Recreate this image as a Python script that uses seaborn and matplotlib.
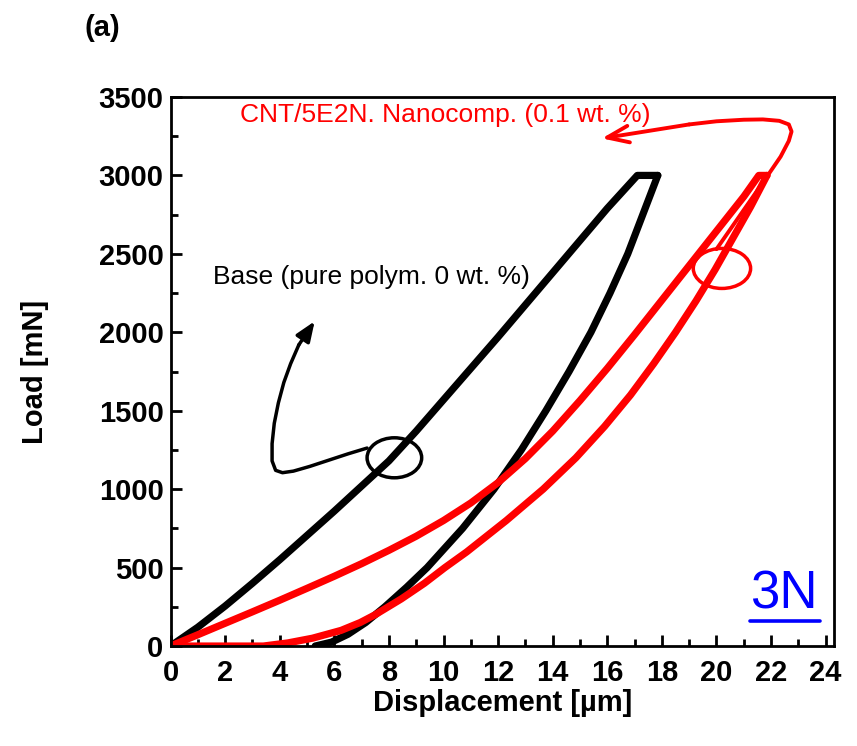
import matplotlib
matplotlib.use("Agg")
import matplotlib.pyplot as plt
from matplotlib.patches import Ellipse
from matplotlib.ticker import MultipleLocator
import seaborn as sns

# ---------------- data ----------------
# Base (pure polymer), loading branch
base_load_x = [0, 1, 2, 3, 4, 5, 6, 7, 8, 9, 10, 11, 12, 13, 14, 15, 16, 17.1, 17.85]
base_load_y = [0, 120, 255, 400, 550, 705, 860, 1020, 1180, 1370, 1570, 1770, 1970, 2175, 2380, 2585, 2790, 3000, 3000]
# Base, unloading branch
base_unl_x = [17.85, 17.3, 16.75, 16.1, 15.4, 14.6, 13.75, 12.85, 11.85, 10.7, 9.4, 8.65, 7.85, 7.15, 6.5, 5.9, 5.3]
base_unl_y = [3000, 2750, 2500, 2250, 2000, 1750, 1500, 1250, 1000, 750, 500, 375, 250, 150, 75, 25, 0]

# CNT/5E2N nanocomposite, loading branch
cnt_load_x = [0, 1, 2, 3, 4, 5, 6, 7, 8, 9, 10, 11, 12, 13, 14, 15, 16, 17, 18, 19, 20, 21, 21.55, 21.85]
cnt_load_y = [0, 72, 145, 218, 292, 368, 445, 525, 610, 700, 800, 912, 1042, 1195, 1370, 1565, 1770, 1985, 2205, 2425, 2645, 2865, 3000, 3000]
# CNT, unloading branch
cnt_unl_x = [21.85, 21.25, 20.6, 19.95, 19.25, 18.5, 17.7, 16.85, 15.9, 14.85, 13.65, 12.3,
             10.85, 10.05, 9.3, 8.45, 7.5, 6.95, 6.25, 5.2, 4.3, 3.4, 0]
cnt_unl_y = [3000, 2800, 2600, 2400, 2200, 2000, 1800, 1600, 1400, 1200, 1000, 800,
             600, 500, 400, 300, 200, 150, 100, 50, 20, 0, 0]

# annotation paths (ellipse markers + hooked arrows)
base_arrow_x = [7.2, 6.5, 5.8, 5.1, 4.5, 4.1, 3.85, 3.72, 3.72, 3.8, 3.95, 4.15, 4.4, 4.7]
base_arrow_y = [1262, 1225, 1185, 1145, 1115, 1105, 1120, 1180, 1290, 1420, 1550, 1680, 1800, 1920]
base_arrow_tip = (5.28, 2070)
cnt_arrow_x = [20.0, 20.6, 21.2, 21.8, 22.35, 22.65, 22.75, 22.65, 22.3, 21.7, 21.0, 20.0, 19.0]
cnt_arrow_y = [2530, 2680, 2830, 2980, 3120, 3220, 3280, 3325, 3348, 3357, 3355, 3345, 3325]
cnt_arrow_tip = (15.8, 3236)

# ---------------- figure ----------------
sns.set_theme(style="ticks")
plt.rcParams['font.family'] = ['Liberation Sans', 'DejaVu Sans']
plt.rcParams['text.color'] = 'black'
plt.rcParams['axes.labelcolor'] = 'black'
plt.rcParams['xtick.color'] = 'black'
plt.rcParams['ytick.color'] = 'black'

fig = plt.figure(figsize=(8.57, 7.46), dpi=100)
ax = fig.add_axes([0.199, 0.134, 0.774, 0.736])

black = '#000000'
red = '#ff0000'

for xs, ys, c in [(base_load_x, base_load_y, black), (base_unl_x, base_unl_y, black),
                  (cnt_load_x, cnt_load_y, red), (cnt_unl_x, cnt_unl_y, red)]:
    sns.lineplot(x=xs, y=ys, sort=False, estimator=None, color=c, linewidth=5.2,
                 ax=ax, solid_joinstyle='round', solid_capstyle='round')

# ellipses around the curves
ax.add_patch(Ellipse((8.2, 1200), 2.0, 255, fill=False, edgecolor=black, linewidth=2.5))
ax.add_patch(Ellipse((20.2, 2407), 2.1, 255, fill=False, edgecolor=red, linewidth=2.5))

# hooked arrows
sns.lineplot(x=base_arrow_x, y=base_arrow_y, sort=False, estimator=None, color=black,
             linewidth=2.5, ax=ax, solid_joinstyle='round', solid_capstyle='round')
ax.annotate('', xy=base_arrow_tip, xytext=(base_arrow_x[-1], base_arrow_y[-1]),
            arrowprops=dict(arrowstyle='-|>,head_length=1.0,head_width=0.4', color=black,
                            lw=2.5, shrinkA=0, shrinkB=0))
sns.lineplot(x=cnt_arrow_x, y=cnt_arrow_y, sort=False, estimator=None, color=red,
             linewidth=2.8, ax=ax, solid_joinstyle='round', solid_capstyle='round')
ax.annotate('', xy=cnt_arrow_tip, xytext=(cnt_arrow_x[-1], cnt_arrow_y[-1]),
            arrowprops=dict(arrowstyle='->,head_length=1.3,head_width=0.5', color=red,
                            lw=2.8, shrinkA=0, shrinkB=0))

ax.text(1.56, 2352, 'Base (pure polym. 0 wt. %)', fontsize=19, color=black, va='center', ha='left')
ax.text(2.55, 3384, 'CNT/5E2N. Nanocomp. (0.1 wt. %)', fontsize=19, color=red, va='center', ha='left')

# blue "3N" with underline
ax.text(0.873, 0.069, '3N', transform=ax.transAxes, fontsize=38, color='#0000ff',
        ha='left', va='baseline')
ax.plot([0.873, 0.979], [0.0455, 0.0455], transform=ax.transAxes, color='#0000ff', lw=2.6)

# axes styling
ax.set_xlim(0, 24.3)
ax.set_ylim(0, 3500)
ax.xaxis.set_major_locator(MultipleLocator(2))
ax.xaxis.set_minor_locator(MultipleLocator(1))
ax.yaxis.set_major_locator(MultipleLocator(500))
ax.yaxis.set_minor_locator(MultipleLocator(250))
ax.tick_params(which='both', direction='in', top=False, right=False, width=2,
               color=black, labelcolor=black)
ax.tick_params(which='major', length=8)
ax.tick_params(which='minor', length=5)
ax.tick_params(axis='x', pad=9)
ax.tick_params(axis='y', pad=5)
for lab in ax.get_xticklabels() + ax.get_yticklabels():
    lab.set_fontsize(21)
    lab.set_fontweight('bold')
for sp in ax.spines.values():
    sp.set_visible(True)
    sp.set_linewidth(2)
    sp.set_color(black)

ax.set_xlabel('Displacement [µm]', fontsize=21, fontweight='bold', color=black)
ax.set_ylabel('Load [mN]', fontsize=21, fontweight='bold', color=black)
ax.xaxis.set_label_coords(0.5, -0.078)
ax.yaxis.set_label_coords(-0.183, 0.5)

fig.text(0.120, 0.962, '(a)', fontsize=21, fontweight='bold', ha='center', va='center', color=black)

fig.savefig('out.png', dpi=100)
